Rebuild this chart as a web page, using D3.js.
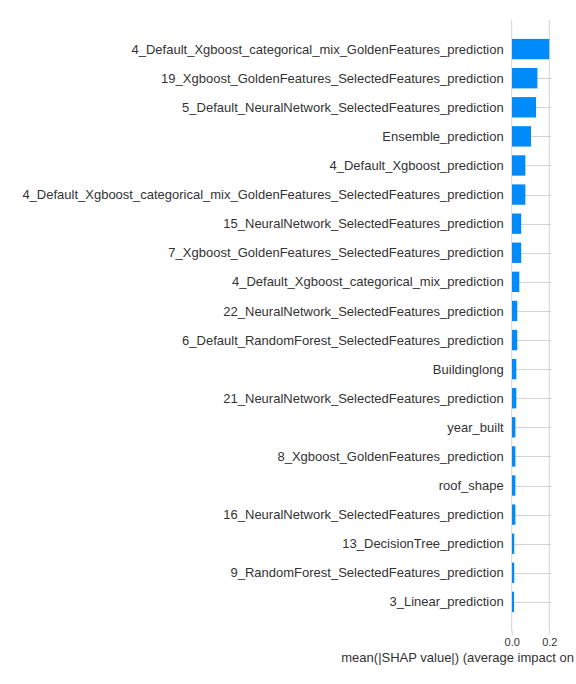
<!DOCTYPE html>
<html><head><meta charset="utf-8">
<script src="https://cdn.jsdelivr.net/npm/d3@7"></script>
<style>body{margin:0;background:#fff}svg{display:block}</style>
</head><body>
<script>
const features = [
  "4_Default_Xgboost_categorical_mix_GoldenFeatures_prediction",
  "19_Xgboost_GoldenFeatures_SelectedFeatures_prediction",
  "5_Default_NeuralNetwork_SelectedFeatures_prediction",
  "Ensemble_prediction",
  "4_Default_Xgboost_prediction",
  "4_Default_Xgboost_categorical_mix_GoldenFeatures_SelectedFeatures_prediction",
  "15_NeuralNetwork_SelectedFeatures_prediction",
  "7_Xgboost_GoldenFeatures_SelectedFeatures_prediction",
  "4_Default_Xgboost_categorical_mix_prediction",
  "22_NeuralNetwork_SelectedFeatures_prediction",
  "6_Default_RandomForest_SelectedFeatures_prediction",
  "Buildinglong",
  "21_NeuralNetwork_SelectedFeatures_prediction",
  "year_built",
  "8_Xgboost_GoldenFeatures_prediction",
  "roof_shape",
  "16_NeuralNetwork_SelectedFeatures_prediction",
  "13_DecisionTree_prediction",
  "9_RandomForest_SelectedFeatures_prediction",
  "3_Linear_prediction"
];
const meanAbsShap = [0.198, 0.135, 0.128, 0.101, 0.071, 0.071, 0.049, 0.049, 0.039, 0.028,
                     0.028, 0.023, 0.023, 0.018, 0.018, 0.018, 0.018, 0.012, 0.012, 0.011];
const xTicks = [0.0, 0.2];
const xLabel = "mean(|SHAP value|) (average impact on model output magnitude)";

const W = 576, H = 684;
const m = {left: 511.7, right: 25, top: 20, bottom: 53};
const svg = d3.select("body").append("svg").attr("width", W).attr("height", H)
  .style("font-family", "'Liberation Sans', Arial, sans-serif");

const x = d3.scaleLinear().domain([0, 0.209]).range([m.left, W - m.right]);
const y = d3.scaleLinear().domain([-1, features.length]).range([m.top, H - m.bottom]);
const band = y(1) - y(0);

// grid lines
svg.append("g").selectAll("line.h").data(features).join("line")
  .attr("x1", x(0)).attr("x2", x(0.209))
  .attr("y1", (d, i) => Math.round(y(i)) + 0.5).attr("y2", (d, i) => Math.round(y(i)) + 0.5)
  .attr("stroke", "#d3d3d3").attr("stroke-width", 1);
svg.append("g").selectAll("line.v").data(xTicks).join("line")
  .attr("x1", d => x(d)).attr("x2", d => x(d))
  .attr("y1", y(-1)).attr("y2", y(features.length))
  .attr("stroke", "#d3d3d3").attr("stroke-width", 1);

// bars
svg.append("g").selectAll("rect").data(meanAbsShap).join("rect")
  .attr("x", x(0) + 0.3)
  .attr("y", (d, i) => y(i) - band * 0.35)
  .attr("width", d => x(d) - x(0))
  .attr("height", band * 0.7)
  .attr("fill", "#008bfb");

// y labels
svg.append("g").selectAll("text").data(features).join("text")
  .attr("x", x(0) - 8).attr("y", (d, i) => y(i))
  .attr("dy", "0.35em").attr("text-anchor", "end")
  .attr("font-size", 13).attr("fill", "#333")
  .text(d => d);

// x axis
const xAxis = d3.axisBottom(x).tickValues(xTicks).tickFormat(d3.format(".1f")).tickSize(4).tickPadding(3);
const gx = svg.append("g").attr("transform", `translate(0,${y(features.length)})`).call(xAxis);
gx.select(".domain").remove();
gx.selectAll(".tick line").attr("stroke", "#d3d3d3");
gx.selectAll(".tick text").attr("font-size", 11).attr("fill", "#333")
  .style("font-family", "'Liberation Sans', Arial, sans-serif");

svg.append("text")
  .attr("x", (x(0) + x(0.209)) / 2).attr("y", 662)
  .attr("text-anchor", "middle").attr("font-size", 13).attr("fill", "#333")
  .text(xLabel);
</script>
</body></html>
